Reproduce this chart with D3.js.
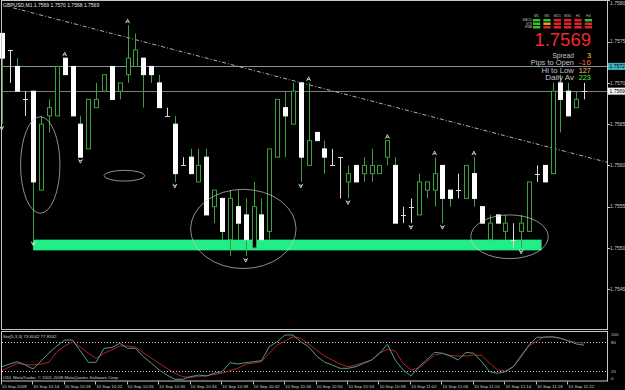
<!DOCTYPE html>
<html>
<head>
<meta charset="utf-8">
<script src="https://cdn.jsdelivr.net/npm/d3@7"></script>
<style>
  body { margin: 0; background: #000; }
  svg { display: block; }
  text { font-family: "Liberation Sans", Arial, sans-serif; }
</style>
</head>
<body>
<div id="chart"></div>
<script>
// GBPUSD M1, 10 Sep 2008 10:10 - 11:24 (bar 0 .. 74)
const openP  = [1.7576,1.7574,1.7572,1.7568,1.7569,1.7557,1.7566,1.7566,1.7573,1.7572,
                1.7565,1.7562,1.7567,1.7569,1.7572,1.7569,1.7571,1.7572,1.7573,1.7572,
                1.7570,1.7566,1.7565,1.7560,1.7561,1.7558,1.7561,1.7555,1.7556,1.7551,
                1.7555,1.7554,1.7550,1.7554,1.7552,1.7561,1.7567,1.7565,1.7570,1.7560,
                1.7564,1.7562,1.7560,1.7561,1.7558,1.7560,1.7559,1.7559,1.7559,1.7561,
                1.7560,1.7554,1.7555,1.7554,1.7557,1.7557,1.7560,1.7557,1.7557,1.7556,
                1.7559,1.7555,1.7551,1.7554,1.7552,1.7551,1.7552,1.7552,1.7559,1.7560,
                1.7559,1.7570,1.7569,1.7567,1.7569];
const highP  = [1.7576,1.7574,1.7573,1.7569,1.7569,1.7566,1.7568,1.7572,1.7573,1.7572,
                1.7566,1.7568,1.7570,1.7571,1.7572,1.7570,1.7577,1.7576,1.7573,1.7572,
                1.7571,1.7567,1.7566,1.7561,1.7562,1.7562,1.7562,1.7557,1.7556,1.7557,
                1.7557,1.7556,1.7558,1.7556,1.7562,1.7568,1.7569,1.7570,1.7570,1.7570,
                1.7564,1.7563,1.7562,1.7561,1.7560,1.7560,1.7561,1.7562,1.7560,1.7563,
                1.7561,1.7555,1.7556,1.7559,1.7558,1.7561,1.7560,1.7557,1.7559,1.7560,
                1.7561,1.7555,1.7554,1.7554,1.7554,1.7553,1.7554,1.7558,1.7560,1.7560,
                1.7570,1.7571,1.7570,1.7569,1.7570];
const lowP   = [1.7565,1.7570,1.7569,1.7566,1.7551,1.7557,1.7564,1.7566,1.7571,1.7566,
                1.7561,1.7562,1.7567,1.7569,1.7568,1.7568,1.7570,1.7572,1.7567,1.7570,
                1.7567,1.7566,1.7558,1.7560,1.7559,1.7558,1.7554,1.7553,1.7551,1.7549,
                1.7551,1.7549,1.7550,1.7551,1.7551,1.7561,1.7561,1.7565,1.7558,1.7560,
                1.7563,1.7559,1.7560,1.7556,1.7556,1.7558,1.7558,1.7558,1.7559,1.7560,
                1.7553,1.7553,1.7553,1.7554,1.7556,1.7555,1.7553,1.7555,1.7556,1.7556,
                1.7555,1.7553,1.7551,1.7553,1.7551,1.7550,1.7550,1.7552,1.7558,1.7558,
                1.7559,1.7564,1.7566,1.7567,1.7568];
const closeP = [1.7573,1.7574,1.7569,1.7568,1.7558,1.7565,1.7567,1.7572,1.7571,1.7566,
                1.7561,1.7568,1.7568,1.7571,1.7568,1.7570,1.7573,1.7574,1.7571,1.7571,
                1.7567,1.7566,1.7559,1.7560,1.7559,1.7560,1.7554,1.7557,1.7552,1.7556,
                1.7553,1.7551,1.7555,1.7551,1.7562,1.7568,1.7566,1.7569,1.7561,1.7563,
                1.7563,1.7561,1.7560,1.7561,1.7559,1.7558,1.7560,1.7560,1.7560,1.7563,
                1.7553,1.7554,1.7555,1.7558,1.7558,1.7559,1.7556,1.7556,1.7557,1.7560,
                1.7556,1.7553,1.7553,1.7553,1.7553,1.7551,1.7553,1.7558,1.7559,1.7558,
                1.7569,1.7568,1.7566,1.7568,1.7569];

// Stochastic(5,3,3): main and signal
const stoMain   = [29,34.6,39.3,32.5,24.2,40.8,57.3,71.8,84.1,84.1,
                   61.5,38.1,38.1,67.1,68.7,77.4,67.1,67.1,49.7,36.6,
                   22.2,11.8,2.9,2.9,8.3,11.8,9.7,15.3,18.6,37.3,
                   34.6,37.3,39.3,41.4,70.4,80.7,94.6,94.6,80.7,70.4,
                   51.1,38.7,32.5,25.7,25.7,29,36,42.9,56.7,75.4,
                   42.9,22.2,9.7,29,42.9,58.8,56.7,51.1,42.9,58.8,
                   56.7,39.3,18.6,15.3,18.6,29,49.7,73.9,89.9,89.9,
                   91.1,87.8,82.8,76,73.6];
const stoSignal = [20.7,28.4,36,33.5,32.5,34.6,38.1,60,71.8,80.7,
                   69.8,57,46.4,56.7,63.6,71.8,71.8,69.2,58,47,
                   36,25.3,15.3,8.7,7,8.7,10.4,12.8,15.3,21.1,
                   25.7,34,36.6,39.3,56.7,73.9,82.2,91.1,87.8,76,
                   63.6,51.1,42.9,34.6,29,32.5,37.7,42.9,56.7,65,
                   61.5,36,22.2,25.7,39.3,53.2,56.7,52.2,51.1,51.1,
                   53.2,52.2,36,22.2,20.1,29,53.2,71.8,82.2,91.1,
                   89.9,87.8,82.2,79.1,77.9];

const timeTickBars = [0,4,8,12,16,20,24,28,32,36,40,44,48,52,56,60,64,68,72];
const timeTickLabels = ["10 Sep 2008","10 Sep 10:14","10 Sep 10:18","10 Sep 10:22","10 Sep 10:26",
                        "10 Sep 10:30","10 Sep 10:34","10 Sep 10:38","10 Sep 10:42","10 Sep 10:46",
                        "10 Sep 10:50","10 Sep 10:54","10 Sep 10:58","10 Sep 11:02","10 Sep 11:06",
                        "10 Sep 11:10","10 Sep 11:14","10 Sep 11:18","10 Sep 11:22"];
const priceTicks = [1.7580,1.7575,1.7570,1.7565,1.7560,1.7555,1.7550,1.7545];
const stoTicks = [100,80,20,0];
const stoLevels = [80,20];

const upFractals = [8,16,39,49,55,60];
const downFractals = [0,4,10,22,31,38,44,52,56,66];

// chart objects (bar index / price)
const hLinePrices = [1.7572, 1.7569];
const trendBars = [1.44, 74];
const trendPrices = [1.75791, 1.75611];
const zoneBars = [4, 68.6];
const zonePrices = [1.7551, 1.75497];
const ellipseBars = [[2.4,7.4],[13.0,18.17],[24.0,37.4],[59.6,69.45]];
const ellipsePrices = [[1.75659,1.75542],[1.75594,1.75581],[1.75571,1.75475],[1.7554,1.75487]];

// info panel
const tfLabels = ["M1","M5","M15","M30","H1","H4"];
const rowLabels = ["MACD","STR","EMA"];
const macdSig = ["up","up","down","down","down","up"];
const strSig  = ["up","flat","down","down","down","down"];
const emaSig  = ["up","down","down","down","down","down"];
const infoLabels = ["Spread","Pips to Open","Hi to Low","Daily Av"];
const infoValues = ["3","-16","127","223"];
const infoColors = ["#f2e034","#ff6236","#f4c64a","#44ec44"];

const W = 625, H = 390;
const frameL = 2, frameR = 607, mainTop = 1, mainBottom = 330, subTop = 332, subBottom = 381.5;

const svg = d3.select("#chart").append("svg")
  .attr("width", W).attr("height", H)
  .style("background", "#000");

const x = d3.scaleLinear().domain([0, 74]).range([1.7, 584.1]);
const y = d3.scaleLinear().domain([1.7545, 1.7580]).range([289.15, 0.4]);
const ys = d3.scaleLinear().domain([0, 100]).range([380.7, 332.4]);
const fmt = d3.format(".4f");
const px = v => Math.round(v) + 0.5;

svg.append("clipPath").attr("id", "mainclip")
  .append("rect").attr("x", 0).attr("y", mainTop).attr("width", frameR).attr("height", mainBottom - mainTop);
svg.append("clipPath").attr("id", "subclip")
  .append("rect").attr("x", 0).attr("y", subTop).attr("width", frameR).attr("height", subBottom - subTop);

const main = svg.append("g").attr("clip-path", "url(#mainclip)");

// green zone rectangle
main.append("rect")
  .attr("x", x(zoneBars[0])).attr("width", x(zoneBars[1]) - x(zoneBars[0]))
  .attr("y", y(zonePrices[0])).attr("height", y(zonePrices[1]) - y(zonePrices[0]))
  .attr("fill", "#22ee88");

// horizontal lines
main.selectAll(".hl").data(hLinePrices).join("line")
  .attr("x1", frameL).attr("x2", frameR)
  .attr("y1", d => px(y(d))).attr("y2", d => px(y(d)))
  .attr("stroke", (d, i) => i == 0 ? "#7f97a6" : "#7c7c7c").attr("stroke-width", 1);

// trend line (ray to the right)
const slope = (y(trendPrices[1]) - y(trendPrices[0])) / (x(trendBars[1]) - x(trendBars[0]));
main.append("line")
  .attr("x1", x(trendBars[0])).attr("y1", y(trendPrices[0]))
  .attr("x2", frameR).attr("y2", y(trendPrices[0]) + slope * (frameR - x(trendBars[0])))
  .attr("stroke", "#dcdcdc").attr("stroke-width", 0.8)
  .attr("stroke-dasharray", "4,2,1,2");

// candles
const bars = d3.range(openP.length).map(i => ({i, o: openP[i], h: highP[i], l: lowP[i], c: closeP[i]}));
const green = "#3da03d";

main.selectAll(".wick").data(bars).join("line")
  .attr("x1", d => px(x(d.i))).attr("x2", d => px(x(d.i)))
  .attr("y1", d => y(d.h)).attr("y2", d => y(d.l))
  .attr("stroke", d => d.o == d.c ? "#dcdcdc" : green).attr("stroke-width", 1);

main.selectAll(".body").data(bars.filter(d => d.o != d.c)).join("rect")
  .attr("x", d => Math.round(x(d.i)) - 2 + 0.5).attr("width", 4)
  .attr("y", d => y(Math.max(d.o, d.c)))
  .attr("height", d => Math.max(1, y(Math.min(d.o, d.c)) - y(Math.max(d.o, d.c))))
  .attr("fill", d => d.c > d.o ? "#000" : "#fff")
  .attr("stroke", d => d.c > d.o ? green : "#fff").attr("stroke-width", 1);

main.selectAll(".doji").data(bars.filter(d => d.o == d.c)).join("line")
  .attr("x1", d => Math.round(x(d.i)) - 2).attr("x2", d => Math.round(x(d.i)) + 3)
  .attr("y1", d => px(y(d.o))).attr("y2", d => px(y(d.o)))
  .attr("stroke", "#dcdcdc").attr("stroke-width", 1);

// fractal arrows
main.selectAll(".fup").data(upFractals).join("path")
  .attr("transform", i => `translate(${x(i)},${y(highP[i]) - 4})`)
  .attr("d", "M-2,2L0,-2L2,2M-1.2,0.6L1.2,0.6")
  .attr("fill", "none").attr("stroke", "#f0f0f0").attr("stroke-width", 0.8);
main.selectAll(".fdn").data(downFractals).join("path")
  .attr("transform", i => `translate(${x(i)},${y(lowP[i]) + 4})`)
  .attr("d", "M-2,-2L0,2L2,-2M-1.2,-0.6L1.2,-0.6")
  .attr("fill", "none").attr("stroke", "#f0f0f0").attr("stroke-width", 0.8);

// ellipses
main.selectAll(".ell").data(d3.range(ellipseBars.length)).join("ellipse")
  .attr("cx", k => (x(ellipseBars[k][0]) + x(ellipseBars[k][1])) / 2)
  .attr("cy", k => (y(ellipsePrices[k][0]) + y(ellipsePrices[k][1])) / 2)
  .attr("rx", k => (x(ellipseBars[k][1]) - x(ellipseBars[k][0])) / 2)
  .attr("ry", k => (y(ellipsePrices[k][1]) - y(ellipsePrices[k][0])) / 2)
  .attr("fill", "none").attr("stroke", "#c8c8c8").attr("stroke-width", 0.7);

// title
svg.append("text").attr("x", 3).attr("y", 7)
  .attr("fill", "#e8e8e8").attr("font-size", 5)
  .text("GBPUSD,M1  1.7569 1.7570 1.7568 1.7569");

// info panel
const colX = d3.scaleBand().domain(tfLabels).range([533, 592]).paddingInner(0.3);
const rowY = d3.scaleBand().domain(rowLabels).range([19, 28.5]).paddingInner(0.3);
const sigColor = {up: "#2ec82e", flat: "#e8a028", down: "#e42424"};
svg.selectAll(".tf").data(tfLabels).join("text")
  .attr("x", d => colX(d) + colX.bandwidth() / 2).attr("y", 16.5)
  .attr("text-anchor", "middle").attr("fill", "#b8b8b8").attr("font-size", 3.6)
  .text(d => d);
svg.selectAll(".rl").data(rowLabels).join("text")
  .attr("x", 532).attr("y", d => rowY(d) + rowY.bandwidth() / 2 + 1.2)
  .attr("text-anchor", "end").attr("fill", "#b8b8b8").attr("font-size", 3.2)
  .text(d => d);
[macdSig, strSig, emaSig].forEach((row, r) => {
  svg.selectAll(".sg" + r).data(row).join("rect")
    .attr("x", (d, c) => colX(tfLabels[c])).attr("width", colX.bandwidth())
    .attr("y", rowY(rowLabels[r])).attr("height", rowY.bandwidth())
    .attr("fill", d => sigColor[d]);
});
svg.append("text").attr("x", 591).attr("y", 46)
  .attr("text-anchor", "end").attr("fill", "#f02828").attr("font-size", 18.5)
  .text(fmt(closeP[closeP.length - 1]));
svg.selectAll(".il").data(infoLabels).join("text")
  .attr("x", 574).attr("y", (d, i) => 57.8 + i * 7.5)
  .attr("text-anchor", "end").attr("fill", "#c4c4c4").attr("font-size", 6.5)
  .attr("textLength", d => d.length * 3.6).attr("lengthAdjust", "spacingAndGlyphs")
  .text(d => d);
svg.selectAll(".iv").data(infoValues).join("text")
  .attr("x", 591).attr("y", (d, i) => 57.8 + i * 7.5)
  .attr("text-anchor", "end").attr("fill", (d, i) => infoColors[i]).attr("font-size", 6.5)
  .attr("textLength", d => d.length * 4.1).attr("lengthAdjust", "spacingAndGlyphs")
  .text(d => d);

// main frame and price axis
svg.append("rect").attr("x", frameL - 0.5).attr("y", mainTop - 0.5)
  .attr("width", frameR - frameL + 1).attr("height", mainBottom - mainTop)
  .attr("fill", "none").attr("stroke", "#c8c8c8").attr("stroke-width", 1);
svg.selectAll(".ptk").data(priceTicks).join("line")
  .attr("x1", frameR).attr("x2", frameR + 3)
  .attr("y1", d => px(y(d))).attr("y2", d => px(y(d)))
  .attr("stroke", "#c8c8c8");
svg.selectAll(".ptl").data(priceTicks).join("text")
  .attr("x", 610).attr("y", d => Math.max(y(d), 3.6) + 1.8)
  .attr("fill", "#c8c8c8").attr("font-size", 5)
  .text(d => fmt(d));
// price labels of the horizontal lines
hLinePrices.forEach((p, i) => {
  svg.append("rect").attr("x", frameR + 1).attr("y", y(p) - 3.5).attr("width", 17).attr("height", 7)
    .attr("fill", i == 0 ? "#3cb8c4" : "#f4f4f4");
  svg.append("text").attr("x", frameR + 2.5).attr("y", y(p) + 1.8)
    .attr("fill", "#000").attr("font-size", 5).text(fmt(p));
});

// stochastic sub-window
const sub = svg.append("g").attr("clip-path", "url(#subclip)");
sub.selectAll(".lvl").data(stoLevels).join("line")
  .attr("x1", frameL).attr("x2", frameR)
  .attr("y1", d => px(ys(d))).attr("y2", d => px(ys(d)))
  .attr("stroke", "#d0d0d0").attr("stroke-width", 1).attr("stroke-dasharray", "1,2");
const stoLine = d3.line().x((d, i) => x(i)).y(d => ys(d));
sub.append("path").datum(stoSignal).attr("d", stoLine)
  .attr("fill", "none").attr("stroke", "#b02222").attr("stroke-width", 1);
sub.append("path").datum(stoMain).attr("d", stoLine)
  .attr("fill", "none").attr("stroke", "#4f9c8c").attr("stroke-width", 1);

svg.append("rect").attr("x", frameL - 0.5).attr("y", subTop - 0.5)
  .attr("width", frameR - frameL + 1).attr("height", subBottom - subTop)
  .attr("fill", "none").attr("stroke", "#c8c8c8").attr("stroke-width", 1);
svg.append("text").attr("x", 3).attr("y", 337.5)
  .attr("fill", "#d0d0d0").attr("font-size", 4.4)
  .text("Sto(5,3,3) 73.6042 77.8532");
svg.append("text").attr("x", 3).attr("y", 378.8)
  .attr("fill", "#d0d0d0").attr("font-size", 4.4)
  .text("ODL MetaTrader, \u00a9 2001-2008 MetaQuotes Software Corp.");
svg.selectAll(".stk").data(stoTicks).join("text")
  .attr("x", 611).attr("y", d => Math.min(Math.max(ys(d), 334), 378) + 1.6)
  .attr("fill", "#c8c8c8").attr("font-size", 4.4)
  .text(d => d);

// time axis
svg.selectAll(".ttk").data(timeTickBars).join("line")
  .attr("x1", i => px(x(i)) - 1).attr("x2", i => px(x(i)) - 1)
  .attr("y1", subBottom).attr("y2", subBottom + 3)
  .attr("stroke", "#c8c8c8");
svg.selectAll(".ttl").data(timeTickBars).join("text")
  .attr("x", i => x(i)).attr("y", 387.8)
  .attr("fill", "#d0d0d0").attr("font-size", 4.4)
  .text((d, k) => timeTickLabels[k]);
</script>
</body>
</html>
